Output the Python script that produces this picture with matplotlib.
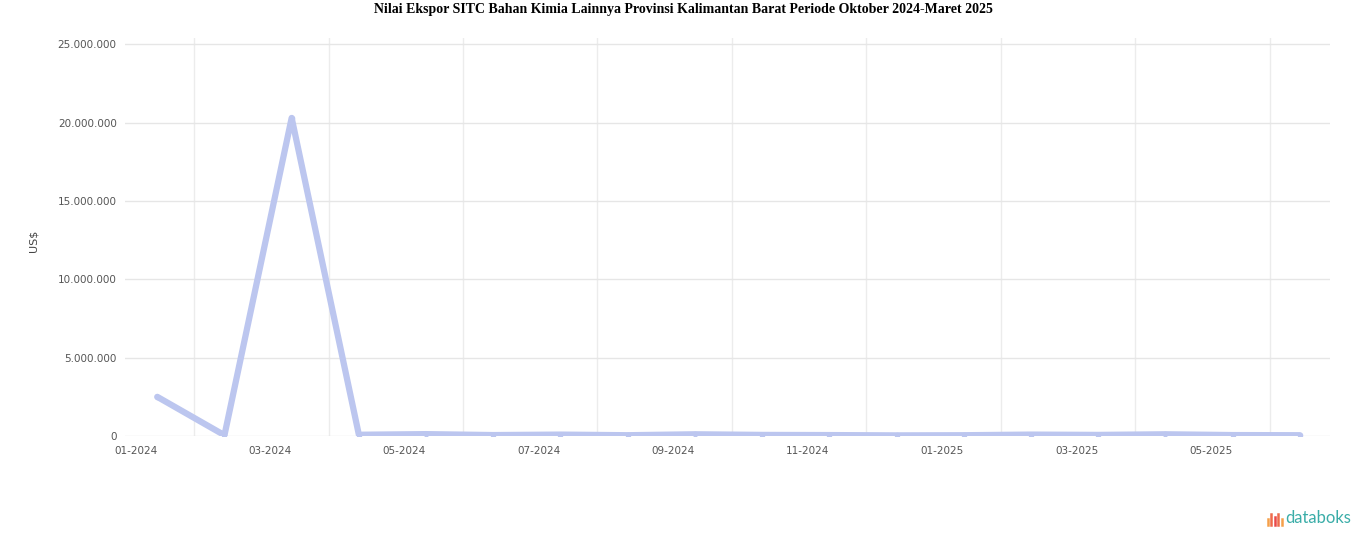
import matplotlib
matplotlib.use("Agg")
import matplotlib.pyplot as plt
from matplotlib.ticker import FuncFormatter

# nilai ekspor (US$)
periods = ["01-2024", "02-2024", "03-2024", "04-2024", "05-2024", "06-2024",
           "07-2024", "08-2024", "09-2024", "10-2024", "11-2024", "12-2024",
           "01-2025", "02-2025", "03-2025", "04-2025", "05-2025", "06-2025"]
values = [2500000, 50000, 20300000, 80000, 120000, 60000,
          90000, 50000, 110000, 70000, 60000, 40000,
          50000, 90000, 70000, 110000, 60000, 50000]
label_every = 2
yticks = [0, 5000000, 10000000, 15000000, 20000000, 25000000]

fig = plt.figure(figsize=(13.66, 5.47), dpi=100)
ax = fig.add_axes([125 / 1366, 1 - 436 / 547, (1330 - 125) / 1366, (436 - 38) / 547])

x = list(range(len(values)))
ax.plot(x, values, color="#bcc6ef", linewidth=4.5, solid_joinstyle="round",
        solid_capstyle="round", marker="o", markersize=3,
        markerfacecolor="#bcc6ef", markeredgecolor="#bcc6ef")

ax.set_xlim(-0.48, 17.45)
ax.set_ylim(0, 25400000)
ax.set_yticks(yticks)
ax.yaxis.set_major_formatter(
    FuncFormatter(lambda v, p: "0" if v == 0 else f"{int(v):,}".replace(",", ".")))
ax.set_xticks(x[::label_every])
ax.set_xticklabels(periods[::label_every])

ax.grid(axis="y", color="#e6e6e6", linewidth=1)
for i in range(0, len(values) - 1, label_every):
    ax.axvline(i + 0.55, color="#ececec", linewidth=1, zorder=0)
ax.set_axisbelow(True)

for s in ax.spines.values():
    s.set_visible(False)
ax.tick_params(axis="both", length=0, labelsize=7.5, colors="#555555")
ax.tick_params(axis="x", pad=7)
ax.tick_params(axis="y", pad=6)
for lbl in ax.get_xticklabels():
    lbl.set_horizontalalignment("right")

ax.set_ylabel("US$", fontsize=8, color="#444444")
ax.yaxis.set_label_coords((38 - 125) / 1205, 0.49)

fig.text(0.5, 1 - 10 / 547, "Nilai Ekspor SITC Bahan Kimia Lainnya Provinsi Kalimantan Barat Periode Oktober 2024-Maret 2025",
         ha="center", va="center", fontsize=10, fontweight="bold",
         family="Liberation Serif")

# logo databoks
bar_cols = ["#f5a04a", "#ef6b4b", "#e9494a", "#ef6b4b", "#f5a04a"]
bar_h = [6, 11, 8, 11, 6]
for k, (c, h) in enumerate(zip(bar_cols, bar_h)):
    bx = 1268 + k * 3.4
    fig.add_artist(plt.Line2D([bx / 1366, bx / 1366],
                              [1 - 525 / 547, 1 - (525 - h) / 547],
                              color=c, linewidth=1.8, transform=fig.transFigure))
fig.text(1285 / 1366, 1 - 518 / 547, "databoks", ha="left", va="center",
         fontsize=12, color="#3aada8", family="Lato")

fig.savefig("out.png", dpi=100)
